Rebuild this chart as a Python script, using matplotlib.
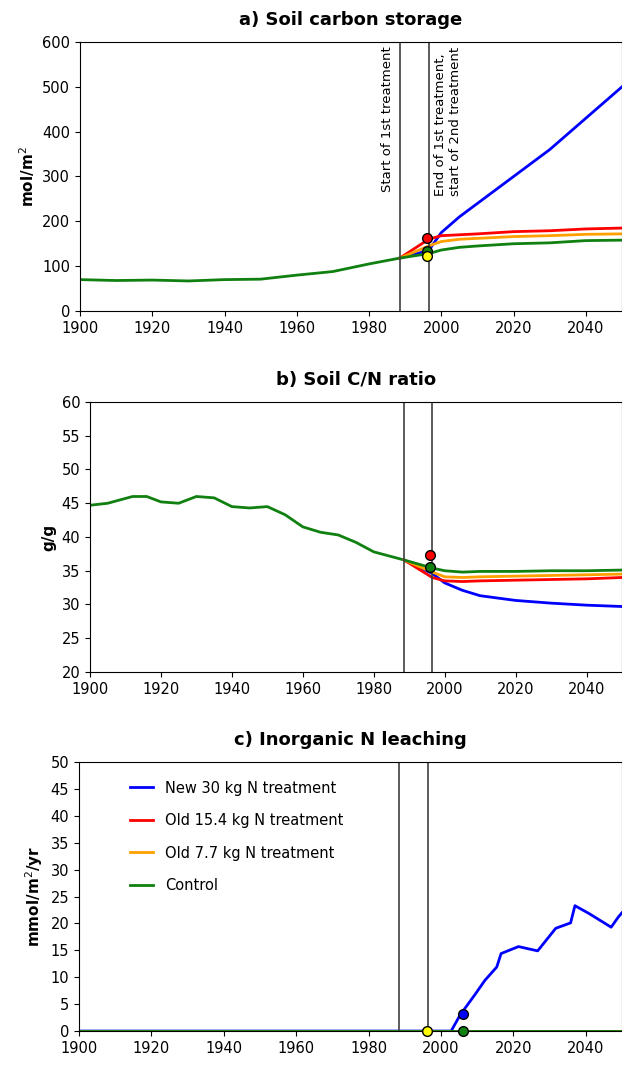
import numpy as np
import matplotlib.pyplot as plt

# shared history (all treatments identical before 1988)
hist_yr = [1900, 1910, 1920, 1930, 1940, 1950, 1960, 1970, 1980, 1988.5]
hist_c = [70, 68, 69, 67, 70, 71, 80, 88, 105, 118]

fut_yr = [1988.5, 1996.5, 2000, 2005, 2010, 2020, 2030, 2040, 2050]
c_new = [118, 135, 175, 210, 240, 300, 360, 430, 500]
c_old15 = [118, 160, 168, 170, 172, 177, 179, 183, 185]
c_old77 = [118, 145, 155, 160, 162, 166, 168, 171, 172]
c_ctrl = [118, 128, 136, 142, 145, 150, 152, 157, 158]

cn_yr = [1900, 1905, 1912, 1916, 1920, 1925, 1930, 1935, 1940, 1945, 1950,
         1955, 1960, 1965, 1970, 1975, 1980, 1988.5]
cn_hist = [44.7, 45.0, 46.0, 46.0, 45.2, 45.0, 46.0, 45.8, 44.5, 44.3, 44.5,
           43.3, 41.5, 40.7, 40.3, 39.2, 37.8, 36.6]
cn_fyr = [1988.5, 1996.5, 2000, 2005, 2010, 2020, 2030, 2040, 2050]
cn_new = [36.6, 34.6, 33.2, 32.1, 31.3, 30.6, 30.2, 29.9, 29.7]
cn_old15 = [36.6, 34.0, 33.5, 33.4, 33.5, 33.6, 33.7, 33.8, 34.0]
cn_old77 = [36.6, 34.8, 34.1, 34.0, 34.1, 34.2, 34.3, 34.4, 34.5]
cn_ctrl = [36.6, 35.4, 35.0, 34.8, 34.9, 34.9, 35.0, 35.0, 35.1]

n_yr = [1900, 2002.8, 2005.3, 2009.3, 2012.1, 2015.4, 2016.6, 2021.4, 2026.7,
        2031.7, 2035.8, 2037, 2041, 2047, 2049, 2050]
n_new = [0, 0, 3.0, 6.7, 9.4, 11.9, 14.4, 15.7, 14.9, 19.1, 20.1, 23.3, 21.8,
         19.3, 21.2, 22.0]

colors = {'new': '#0000ff', 'old15': '#ff0000', 'old77': '#ffa000', 'ctrl': '#108010'}
labels = {'new': 'New 30 kg N treatment', 'old15': 'Old 15.4 kg N treatment',
          'old77': 'Old 7.7 kg N treatment', 'ctrl': 'Control'}

fig = plt.figure(figsize=(6.22, 10.68), dpi=100)
ax1 = fig.add_axes([0.1286, 0.7088, 0.8714, 0.2519])
ax2 = fig.add_axes([0.1447, 0.3708, 0.8553, 0.2528])
ax3 = fig.add_axes([0.1270, 0.0346, 0.8730, 0.2519])


def style(ax, ylim, yticks, ylabel, title):
    ax.set_xlim(1900, 2050)
    ax.set_ylim(*ylim)
    ax.set_yticks(yticks)
    ax.set_xticks(range(1900, 2041, 20))
    ax.tick_params(labelsize=10.5, direction='out')
    ax.set_ylabel(ylabel, fontsize=11, fontweight='bold')
    ax.set_title(title, fontsize=13, fontweight='bold', pad=12)
    for y in (1988.5, 1996.5):
        ax.axvline(y, color='#404040', lw=1.2)


def marker(ax, x, y, c):
    ax.plot(x, y, 'o', ms=7, mfc=c, mec='black', mew=1, zorder=5, clip_on=False)


# a)
ax1.plot(hist_yr, hist_c, color=colors['ctrl'], lw=2)
for key, vals in [('new', c_new), ('old15', c_old15), ('old77', c_old77), ('ctrl', c_ctrl)]:
    ax1.plot(fut_yr, vals, color=colors[key], lw=2)
marker(ax1, 1996, 163, colors['old15'])
marker(ax1, 1996, 133, colors['ctrl'])
marker(ax1, 1996, 123, 'yellow')
style(ax1, (0, 600), range(0, 601, 100), 'mol/m$^2$', 'a) Soil carbon storage')
ax1.text(1987, 590, 'Start of 1st treatment', rotation=90, ha='right', va='top', fontsize=9.5)
ax1.text(1998, 590, 'End of 1st treatment,\nstart of 2nd treatment', rotation=90,
         ha='left', va='top', fontsize=9.5)

# b)
ax2.plot(cn_yr, cn_hist, color=colors['ctrl'], lw=2)
for key, vals in [('new', cn_new), ('old15', cn_old15), ('old77', cn_old77), ('ctrl', cn_ctrl)]:
    ax2.plot(cn_fyr, vals, color=colors[key], lw=2)
marker(ax2, 1996, 37.3, colors['old15'])
marker(ax2, 1996, 35.5, colors['ctrl'])
style(ax2, (20, 60), range(20, 61, 5), 'g/g', 'b) Soil C/N ratio')

# c)
ax3.plot(n_yr, n_new, color=colors['new'], lw=2, label=labels['new'])
for key in ('old15', 'old77', 'ctrl'):
    ax3.plot([1900, 2050], [0, 0], color=colors[key], lw=2, label=labels[key])
marker(ax3, 1996, 0, 'yellow')
marker(ax3, 2006, 3.2, colors['new'])
marker(ax3, 2006, 0, colors['ctrl'])
style(ax3, (0, 50), range(0, 51, 5), 'mmol/m$^2$/yr', 'c) Inorganic N leaching')
ax3.legend(loc='upper left', bbox_to_anchor=(0.07, 0.98), frameon=False, fontsize=10.5,
           handlelength=1.6, labelspacing=1.2)

fig.savefig('out.png', dpi=100)
